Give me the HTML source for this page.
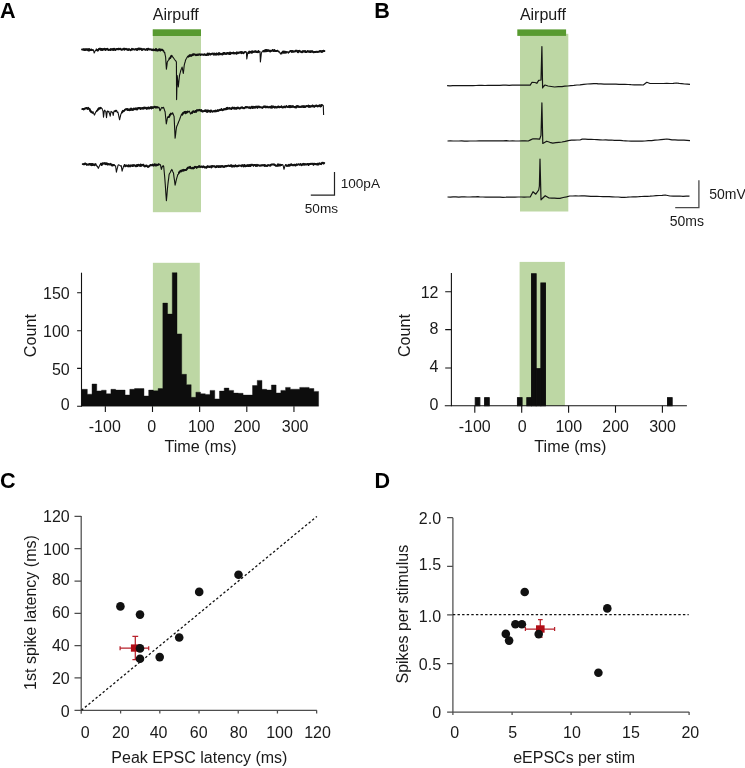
<!DOCTYPE html>
<html><head><meta charset="utf-8">
<style>
html,body{margin:0;padding:0;background:#fff;}
svg{display:block;will-change:transform;}
text{font-family:"Liberation Sans",sans-serif;fill:#1a1a1a;}
.b{font-weight:bold;font-size:21.6px;fill:#000;}
.t16{font-size:16.2px;}
.ap{font-size:16px;}
.t15{font-size:16px;}
.t13{font-size:14px;}
</style></head>
<body>
<svg width="745" height="768" viewBox="0 0 745 768">
<!-- panel letters -->
<text class="b" x="0" y="17.7">A</text>
<text class="b" x="374.2" y="17.7">B</text>
<text class="b" x="0" y="488">C</text>
<text class="b" x="374.5" y="488">D</text>

<!-- Panel A top -->
<rect x="152.9" y="30" width="48.1" height="182.2" fill="#bdd7a4"/>
<rect x="152.75" y="29.3" width="48.25" height="6.7" fill="#589a30"/>
<text class="ap" x="152.8" y="19.9">Airpuff</text>
<!-- Panel B top -->
<rect x="520" y="33.8" width="48.3" height="177.7" fill="#bdd7a4"/>
<rect x="517.3" y="29.4" width="48.8" height="6.5" fill="#589a30"/>
<text class="ap" x="519.9" y="19.7">Airpuff</text>

<path d="M82.0 49.5L82.5 49.6L83.0 49.4L83.5 49.7L84.0 49.1L84.5 50.1L85.0 50.1L85.5 49.9L86.0 49.1L86.5 49.7L87.0 49.4L87.5 49.3L88.0 50.4L88.5 50.5L89.0 49.0L89.5 50.4L90.0 49.8L90.5 50.0L91.0 49.6L91.5 49.5L91.9 50.1L92.4 49.7L92.9 50.1L93.4 49.8L93.8 51.4L94.2 53.0L94.7 52.1L95.1 51.1L95.6 50.2L96.1 50.4L96.6 49.4L97.1 50.3L97.6 50.6L98.0 50.5L98.5 49.8L99.0 48.8L99.5 48.6L100.0 49.3L100.5 48.7L101.0 50.0L101.5 49.0L102.0 49.1L102.5 50.0L103.0 49.1L103.5 49.5L104.0 49.3L104.5 48.7L105.0 49.6L105.5 50.0L106.0 48.9L106.5 49.1L107.0 49.4L107.5 48.8L108.0 49.5L108.5 50.1L109.0 49.8L109.5 49.6L110.0 49.6L110.5 50.1L111.0 49.0L111.5 49.6L112.0 49.3L112.5 49.7L113.0 48.9L113.5 49.9L114.0 48.8L114.5 48.9L115.0 49.9L115.5 50.1L116.0 49.3L116.5 49.2L117.0 48.9L117.5 48.9L118.0 49.5L118.5 48.7L119.0 48.6L119.5 49.1L120.0 49.2L120.5 48.7L121.0 49.5L121.5 49.8L122.0 49.7L122.5 49.3L123.0 49.1L123.5 49.2L124.0 48.6L124.5 49.7L125.0 49.1L125.5 49.1L126.0 48.8L126.5 49.4L127.0 49.6L127.5 49.3L128.0 50.1L128.5 49.8L129.0 49.1L129.5 49.6L130.0 49.6L130.5 50.2L131.0 49.6L131.5 49.7L132.0 48.8L132.5 49.5L133.0 49.4L133.5 49.3L134.0 49.4L134.5 49.6L135.0 49.5L135.5 49.4L136.0 48.9L136.5 49.3L137.0 50.1L137.5 49.2L138.0 48.6L138.5 48.5L139.0 49.4L139.5 48.6L140.0 49.3L140.5 48.6L141.0 48.7L141.5 49.2L142.0 50.1L142.5 49.3L143.0 49.2L143.5 49.2L144.0 49.3L144.5 49.2L145.0 49.6L145.5 49.9L146.0 49.6L146.5 49.1L147.0 49.5L147.5 49.9L148.0 48.7L148.5 48.8L149.0 49.4L149.5 49.5L150.0 49.2L150.5 49.5L151.0 49.4L151.5 49.9L152.0 49.4L152.5 49.9L153.0 50.2L153.5 49.4L154.0 50.2L154.5 50.0L155.0 49.7L155.5 50.3L156.0 49.0L156.5 50.4L156.9 50.2L157.4 50.5L157.9 50.6L158.4 49.5L158.9 50.1L159.4 49.3L159.9 50.1L160.3 50.6L160.8 49.5L161.3 49.7L161.8 50.0L162.3 49.7L162.8 50.3L163.2 50.7L163.7 50.9L164.2 52.7L164.7 52.3L165.1 54.6L165.6 57.0L166.0 63.1L166.4 69.2L166.9 65.6L167.3 62.0L167.9 61.0L168.5 59.9L169.0 59.8L169.5 58.4L170.0 58.2L170.5 57.4L171.0 56.4L171.5 55.7L172.1 56.1L172.6 57.0L173.2 57.3L173.6 58.0L174.1 58.8L174.5 59.5L175.1 60.2L175.7 60.7L176.4 62.0L176.6 99.6L177.2 75.5L177.8 81.2L178.3 87.0L178.9 81.2L179.5 75.5L179.9 73.8L180.4 72.2L180.8 70.5L181.2 69.4L181.7 68.2L182.1 67.1L182.7 70.2L183.3 73.4L183.8 69.4L184.2 65.4L184.6 63.7L185.1 62.0L185.5 60.3L186.0 59.3L186.6 58.3L187.1 57.3L187.6 56.6L188.1 56.5L188.6 56.6L189.0 56.3L189.5 55.3L190.0 55.7L190.5 55.2L191.0 55.8L191.5 55.7L192.0 55.3L192.5 54.4L193.1 54.9L193.6 54.3L194.1 54.2L194.6 54.5L195.1 54.8L195.6 54.8L196.1 55.2L196.6 55.0L197.1 54.4L197.6 55.0L198.1 54.7L198.6 54.7L199.1 54.3L199.6 54.5L200.1 54.4L200.5 55.0L201.0 54.5L201.5 54.5L202.0 54.5L202.5 54.5L203.0 54.8L203.5 54.8L204.0 54.9L204.5 54.3L205.0 54.4L205.5 54.8L206.0 55.1L206.5 55.1L207.0 54.7L207.5 53.6L208.0 54.8L208.5 54.8L209.0 53.5L209.5 53.9L210.0 53.9L210.5 54.6L211.0 54.3L211.5 53.8L212.0 53.6L212.5 53.6L213.0 53.4L213.5 54.5L214.0 54.7L214.5 53.6L215.0 54.0L215.5 54.4L216.0 54.7L216.5 53.4L217.0 54.0L217.5 53.8L218.0 54.6L218.5 54.5L219.0 53.1L219.5 53.3L220.0 54.4L220.5 53.9L221.0 53.8L221.5 54.2L222.0 54.1L222.5 54.4L223.0 53.4L223.5 52.9L224.0 53.9L224.5 52.9L225.0 53.6L225.5 53.7L226.0 54.1L226.5 53.3L227.0 53.6L227.5 52.9L228.0 52.9L228.5 53.6L229.0 53.9L229.5 54.1L230.0 52.5L230.5 53.9L231.0 53.3L231.5 53.0L232.0 53.0L232.5 53.3L233.0 52.9L233.5 52.5L234.0 53.6L234.5 53.4L235.0 53.0L235.5 53.1L236.0 53.3L236.5 53.7L237.0 52.3L237.5 53.3L238.0 53.3L238.5 52.5L239.0 52.8L239.5 52.6L240.0 52.2L240.5 52.5L240.9 52.0L241.4 53.2L241.9 52.0L242.4 52.7L242.9 52.6L243.4 53.2L243.9 52.8L244.4 52.1L244.9 52.1L245.4 51.5L245.9 51.5L246.4 52.2L246.8 59.0L247.3 55.8L247.8 52.5L248.3 52.1L248.8 53.1L249.3 51.6L249.9 51.8L250.4 52.5L250.9 52.0L251.4 51.6L251.9 52.8L252.4 51.3L252.9 52.2L253.5 51.8L254.0 51.7L254.5 51.4L255.0 51.8L255.5 51.2L256.0 51.6L256.5 52.1L257.0 51.6L257.5 52.1L258.0 52.2L258.5 51.1L259.0 52.2L259.5 51.7L260.0 51.5L260.4 62.0L260.9 57.5L261.4 53.0L261.9 52.1L262.5 51.2L263.0 51.0L263.5 51.0L264.0 51.5L264.5 50.5L265.0 50.6L265.5 50.0L266.0 51.4L266.5 50.0L267.0 50.0L267.5 51.0L268.0 50.4L268.5 50.3L269.0 50.9L269.5 51.3L270.0 50.5L270.5 51.4L271.0 50.9L271.5 50.9L272.0 50.8L272.5 50.0L273.0 50.2L273.5 51.1L274.0 51.1L274.5 50.1L275.0 50.8L275.5 51.1L276.0 50.9L276.5 51.1L277.0 50.9L277.5 50.7L278.0 50.9L278.5 52.0L279.0 51.3L279.5 52.2L280.0 53.1L280.5 54.0L281.0 53.0L281.5 53.5L282.0 52.4L282.5 52.4L283.0 51.6L283.5 52.7L284.0 51.4L284.5 52.7L285.0 52.1L285.5 51.8L285.9 52.7L286.4 52.3L286.9 51.7L287.3 52.1L287.8 51.8L288.3 53.3L289.0 51.6L289.5 52.3L290.0 51.4L290.5 50.9L291.0 50.9L291.5 51.1L292.0 52.0L292.5 51.0L293.0 51.1L293.5 51.7L294.0 51.6L294.5 51.4L295.0 51.6L295.5 50.8L296.0 50.7L296.5 50.8L297.0 50.8L297.5 52.0L298.0 52.3L298.5 51.0L299.0 51.4L299.5 50.8L300.0 51.6L300.5 51.5L301.0 51.9L301.5 51.8L302.0 52.3L302.5 51.8L303.0 51.0L303.5 51.5L304.0 51.7L304.5 51.5L305.0 51.0L305.5 52.0L306.0 51.8L306.5 52.1L307.0 51.6L307.5 51.1L308.0 51.5L308.5 51.3L309.0 51.8L309.5 51.3L310.0 51.9L310.5 51.2L311.0 51.9L311.5 51.3L312.0 51.2L312.5 51.2L313.0 52.1L313.5 52.3L314.0 52.2L314.5 51.9L315.0 51.9L315.5 52.1L316.0 51.6L316.5 51.7L317.0 52.0L317.5 51.8L318.0 51.6L318.5 51.7L319.0 51.8L319.5 51.5L320.0 51.0L320.5 51.1L321.0 51.7L321.4 51.2L321.9 51.9L322.4 51.1L322.9 51.5L323.4 50.6L323.9 50.8L324.4 51.1" fill="none" stroke="#111" stroke-width="1.1" stroke-linejoin="round"/>
<path d="M82.0 49.5L82.5 49.6L83.0 49.4L83.5 49.7L84.0 49.1L84.5 50.1L85.0 50.1L85.5 49.9L86.0 49.1L86.5 49.7L87.0 49.4L87.5 49.3L88.0 50.4L88.5 50.5L89.0 49.0L89.5 50.4L90.0 49.8L90.5 50.0L91.0 49.6L91.5 49.5L91.9 50.1M96.6 49.4L97.1 50.3L97.6 50.6L98.0 50.5L98.5 49.8L99.0 48.8L99.5 48.6L100.0 49.3L100.5 48.7L101.0 50.0L101.5 49.0L102.0 49.1L102.5 50.0L103.0 49.1L103.5 49.5L104.0 49.3L104.5 48.7L105.0 49.6L105.5 50.0L106.0 48.9L106.5 49.1L107.0 49.4L107.5 48.8L108.0 49.5L108.5 50.1L109.0 49.8L109.5 49.6L110.0 49.6L110.5 50.1L111.0 49.0L111.5 49.6L112.0 49.3L112.5 49.7L113.0 48.9L113.5 49.9L114.0 48.8L114.5 48.9L115.0 49.9L115.5 50.1L116.0 49.3L116.5 49.2L117.0 48.9L117.5 48.9L118.0 49.5L118.5 48.7L119.0 48.6L119.5 49.1L120.0 49.2L120.5 48.7L121.0 49.5L121.5 49.8L122.0 49.7L122.5 49.3L123.0 49.1L123.5 49.2L124.0 48.6L124.5 49.7L125.0 49.1L125.5 49.1L126.0 48.8L126.5 49.4L127.0 49.6L127.5 49.3L128.0 50.1L128.5 49.8L129.0 49.1L129.5 49.6L130.0 49.6L130.5 50.2L131.0 49.6L131.5 49.7L132.0 48.8L132.5 49.5L133.0 49.4L133.5 49.3L134.0 49.4L134.5 49.6L135.0 49.5L135.5 49.4L136.0 48.9L136.5 49.3L137.0 50.1L137.5 49.2L138.0 48.6L138.5 48.5L139.0 49.4L139.5 48.6L140.0 49.3L140.5 48.6L141.0 48.7L141.5 49.2L142.0 50.1L142.5 49.3L143.0 49.2L143.5 49.2L144.0 49.3L144.5 49.2L145.0 49.6L145.5 49.9L146.0 49.6L146.5 49.1L147.0 49.5L147.5 49.9L148.0 48.7L148.5 48.8L149.0 49.4L149.5 49.5L150.0 49.2L150.5 49.5L151.0 49.4L151.5 49.9L152.0 49.4L152.5 49.9L153.0 50.2L153.5 49.4L154.0 50.2L154.5 50.0L155.0 49.7L155.5 50.3L156.0 49.0L156.5 50.4L156.9 50.2L157.4 50.5L157.9 50.6L158.4 49.5L158.9 50.1L159.4 49.3L159.9 50.1L160.3 50.6L160.8 49.5L161.3 49.7L161.8 50.0L162.3 49.7L162.8 50.3L163.2 50.7M169.5 58.4L170.0 58.2L170.5 57.4L171.0 56.4L171.5 55.7M188.1 56.5L188.6 56.6L189.0 56.3L189.5 55.3L190.0 55.7L190.5 55.2L191.0 55.8L191.5 55.7L192.0 55.3L192.5 54.4L193.1 54.9L193.6 54.3L194.1 54.2L194.6 54.5L195.1 54.8L195.6 54.8L196.1 55.2L196.6 55.0L197.1 54.4L197.6 55.0L198.1 54.7L198.6 54.7L199.1 54.3L199.6 54.5L200.1 54.4L200.5 55.0L201.0 54.5L201.5 54.5L202.0 54.5L202.5 54.5L203.0 54.8L203.5 54.8L204.0 54.9L204.5 54.3L205.0 54.4L205.5 54.8L206.0 55.1L206.5 55.1L207.0 54.7L207.5 53.6L208.0 54.8L208.5 54.8L209.0 53.5L209.5 53.9L210.0 53.9L210.5 54.6L211.0 54.3L211.5 53.8L212.0 53.6L212.5 53.6L213.0 53.4L213.5 54.5L214.0 54.7L214.5 53.6L215.0 54.0L215.5 54.4L216.0 54.7L216.5 53.4L217.0 54.0L217.5 53.8L218.0 54.6L218.5 54.5L219.0 53.1L219.5 53.3L220.0 54.4L220.5 53.9L221.0 53.8L221.5 54.2L222.0 54.1L222.5 54.4L223.0 53.4L223.5 52.9L224.0 53.9L224.5 52.9L225.0 53.6L225.5 53.7L226.0 54.1L226.5 53.3L227.0 53.6L227.5 52.9L228.0 52.9L228.5 53.6L229.0 53.9L229.5 54.1L230.0 52.5L230.5 53.9L231.0 53.3L231.5 53.0L232.0 53.0L232.5 53.3L233.0 52.9L233.5 52.5L234.0 53.6L234.5 53.4L235.0 53.0L235.5 53.1L236.0 53.3L236.5 53.7L237.0 52.3L237.5 53.3L238.0 53.3L238.5 52.5L239.0 52.8L239.5 52.6L240.0 52.2L240.5 52.5L240.9 52.0L241.4 53.2L241.9 52.0L242.4 52.7L242.9 52.6L243.4 53.2L243.9 52.8L244.4 52.1L244.9 52.1M248.8 53.1L249.3 51.6L249.9 51.8L250.4 52.5L250.9 52.0L251.4 51.6L251.9 52.8L252.4 51.3L252.9 52.2L253.5 51.8L254.0 51.7L254.5 51.4L255.0 51.8L255.5 51.2L256.0 51.6L256.5 52.1L257.0 51.6L257.5 52.1L258.0 52.2L258.5 51.1M263.5 51.0L264.0 51.5L264.5 50.5L265.0 50.6L265.5 50.0L266.0 51.4L266.5 50.0L267.0 50.0L267.5 51.0L268.0 50.4L268.5 50.3L269.0 50.9L269.5 51.3L270.0 50.5L270.5 51.4L271.0 50.9L271.5 50.9L272.0 50.8L272.5 50.0L273.0 50.2L273.5 51.1L274.0 51.1L274.5 50.1L275.0 50.8L275.5 51.1L276.0 50.9L276.5 51.1L277.0 50.9L277.5 50.7M281.5 53.5L282.0 52.4L282.5 52.4L283.0 51.6L283.5 52.7L284.0 51.4L284.5 52.7L285.0 52.1L285.5 51.8L285.9 52.7L286.4 52.3M290.0 51.4L290.5 50.9L291.0 50.9L291.5 51.1L292.0 52.0L292.5 51.0L293.0 51.1L293.5 51.7L294.0 51.6L294.5 51.4L295.0 51.6L295.5 50.8L296.0 50.7L296.5 50.8L297.0 50.8L297.5 52.0L298.0 52.3L298.5 51.0L299.0 51.4L299.5 50.8L300.0 51.6L300.5 51.5L301.0 51.9L301.5 51.8L302.0 52.3L302.5 51.8L303.0 51.0L303.5 51.5L304.0 51.7L304.5 51.5L305.0 51.0L305.5 52.0L306.0 51.8L306.5 52.1L307.0 51.6L307.5 51.1L308.0 51.5L308.5 51.3L309.0 51.8L309.5 51.3L310.0 51.9L310.5 51.2L311.0 51.9L311.5 51.3L312.0 51.2L312.5 51.2L313.0 52.1L313.5 52.3L314.0 52.2L314.5 51.9L315.0 51.9L315.5 52.1L316.0 51.6L316.5 51.7L317.0 52.0L317.5 51.8L318.0 51.6L318.5 51.7L319.0 51.8L319.5 51.5L320.0 51.0L320.5 51.1L321.0 51.7L321.4 51.2L321.9 51.9L322.4 51.1L322.9 51.5L323.4 50.6L323.9 50.8L324.4 51.1" fill="none" stroke="#111" stroke-width="1.9" stroke-linejoin="round" stroke-linecap="round"/>
<path d="M82.3 109.1L82.8 108.9L83.3 109.0L83.8 109.4L84.4 108.6L84.9 108.5L85.4 108.4L85.9 108.5L86.3 107.9L86.8 108.4L87.3 108.6L87.8 108.9L88.2 107.8L88.7 108.4L89.2 108.8L89.7 109.1L90.2 110.9L90.7 111.1L91.2 112.1L91.6 111.7L92.1 113.1L92.6 113.2L93.1 111.8L93.5 112.9L94.0 114.0L94.4 115.1L95.0 113.9L95.5 112.6L96.1 111.4L96.6 111.6L97.1 110.6L97.6 110.1L98.1 109.4L98.6 108.6L99.1 108.1L99.6 108.7L100.1 108.4L100.6 107.8L101.1 108.1L101.6 108.2L102.1 108.7L102.5 109.9L103.0 111.1L103.5 117.1L103.9 113.9L104.3 110.8L104.8 110.2L105.3 111.1L105.8 111.4L106.5 117.8L106.9 114.4L107.3 111.1L107.8 111.1L108.4 111.8L108.9 111.4L109.3 113.0L109.8 114.5L110.2 116.1L110.6 113.8L111.0 111.4L111.5 111.8L112.1 112.3L112.6 112.4L113.2 115.4L113.6 113.2L114.0 111.1L114.5 111.0L115.1 111.2L115.7 110.8L116.2 110.8L116.8 110.9L117.3 112.5L117.9 112.1L118.5 114.7L119.0 117.2L119.6 119.8L120.0 117.9L120.5 116.0L120.9 114.1L121.4 113.3L122.0 112.4L122.5 111.6L123.0 110.8L123.5 111.3L124.0 110.8L124.5 110.3L125.0 109.7L125.5 109.4L126.0 109.2L126.5 109.3L127.0 108.9L127.5 110.0L128.0 109.4L128.5 110.0L129.0 109.3L129.5 110.2L130.0 109.4L130.5 109.9L131.0 108.5L131.5 108.8L132.0 109.9L132.5 109.2L133.0 109.9L133.5 109.0L134.0 108.4L134.5 109.2L135.0 109.4L135.5 108.6L136.0 108.3L136.5 108.6L137.0 109.6L137.5 109.2L138.0 108.1L138.5 108.3L139.0 108.0L139.5 107.9L140.0 108.6L140.5 109.0L141.0 108.0L141.5 108.6L142.0 108.4L142.5 107.9L143.0 108.7L143.5 107.7L144.0 108.5L144.5 107.6L145.0 108.1L145.5 107.7L146.0 107.8L146.5 108.8L147.0 108.5L147.5 107.7L148.0 108.6L148.5 107.5L149.0 107.7L149.5 108.4L150.0 107.8L150.5 108.0L151.0 107.1L151.5 108.5L152.0 107.2L152.5 107.2L153.0 108.0L153.5 107.3L154.0 107.2L154.5 106.8L155.0 106.8L155.5 107.6L156.0 107.0L156.5 107.5L157.0 107.1L157.5 107.2L158.0 108.0L158.5 107.2L159.0 107.2L159.5 109.0L160.0 110.8L160.6 109.7L161.1 108.5L161.7 107.4L162.2 107.6L162.7 108.2L163.2 107.2L163.7 107.8L164.2 109.1L164.6 110.5L165.1 111.8L165.7 117.8L166.3 123.9L166.9 120.8L167.4 117.8L167.9 116.9L168.4 117.1L168.9 117.1L169.4 116.3L169.9 114.7L170.4 114.5L170.9 113.6L171.5 114.0L172.1 113.9L172.6 112.8L173.1 114.0L173.6 115.3L174.1 116.5L174.6 127.4L175.1 138.3L175.6 134.6L176.0 130.9L176.5 127.2L176.9 126.1L177.4 125.0L177.8 123.9L178.3 122.8L178.7 121.6L179.2 120.5L179.7 119.2L180.2 117.8L180.7 116.4L181.2 115.1L181.7 114.0L182.2 114.7L182.7 114.0L183.2 112.8L183.7 112.9L184.1 112.6L184.6 112.0L185.1 111.8L185.6 113.3L186.0 112.0L186.5 112.4L187.0 112.5L187.6 111.5L188.1 112.1L188.7 111.5L189.2 111.1L189.7 112.1L190.1 113.1L190.6 114.1L191.1 113.3L191.6 112.6L192.1 113.0L192.6 112.1L193.1 111.3L193.6 111.4L194.1 111.8L194.6 112.1L195.1 111.6L195.6 110.9L196.1 111.8L196.6 110.5L197.1 110.1L197.6 110.3L198.1 110.5L198.6 110.4L199.1 109.8L199.6 110.0L200.1 110.4L200.6 110.7L201.1 110.1L201.6 110.5L202.0 111.4L202.5 111.6L203.0 111.1L203.5 111.2L204.0 111.1L204.5 110.5L205.0 111.1L205.5 110.4L206.0 110.3L206.5 111.7L207.0 111.4L207.5 111.8L208.0 110.3L208.5 111.3L209.0 111.0L209.5 111.4L210.0 110.8L210.5 111.8L211.0 110.4L211.5 111.1L212.0 111.4L212.5 111.7L213.0 111.4L213.5 111.3L214.0 111.0L214.5 111.4L215.0 111.5L215.5 110.5L216.0 110.9L216.5 111.2L217.0 111.1L217.5 110.2L218.0 110.8L218.5 110.8L219.0 110.2L219.5 110.2L220.0 109.7L220.5 110.0L221.0 109.9L221.5 109.0L222.0 109.8L222.5 110.3L223.0 110.0L223.5 109.7L224.0 109.0L224.5 109.5L225.0 109.2L225.5 108.9L226.0 109.4L226.5 108.1L227.0 109.1L227.5 107.8L228.0 108.5L228.5 108.6L229.0 108.4L229.5 108.0L230.0 108.7L230.5 108.4L231.0 108.5L231.5 109.0L232.0 107.9L232.5 107.5L233.0 107.9L233.5 108.5L234.0 107.7L234.5 107.6L235.0 108.8L235.5 108.4L236.0 108.0L236.5 108.7L237.0 107.7L237.5 108.3L238.0 107.5L238.5 107.8L239.0 108.4L239.5 108.6L240.0 108.5L240.5 107.7L241.0 107.9L241.5 107.5L242.0 107.2L242.5 107.7L243.0 108.2L243.5 108.2L244.0 108.0L244.5 108.3L245.0 107.6L245.5 107.2L246.0 107.0L246.5 107.5L247.0 107.2L247.5 107.1L248.0 107.4L248.5 107.7L249.0 107.5L249.5 107.2L250.0 108.0L250.5 108.2L251.0 107.4L251.5 106.7L252.0 106.7L252.5 108.0L253.0 106.7L253.5 107.7L254.0 107.5L254.5 107.0L255.0 107.8L255.5 106.6L256.0 106.7L256.5 107.2L257.0 106.5L257.5 107.8L258.0 106.8L258.5 106.7L259.0 106.5L259.5 107.4L260.0 107.2L260.5 107.1L261.0 107.4L261.5 107.4L262.0 107.7L262.5 107.9L263.0 107.4L263.5 106.6L264.0 107.1L264.5 106.6L265.0 106.3L265.5 107.0L266.0 107.4L266.5 106.6L267.0 106.7L267.5 106.8L268.0 107.4L268.5 107.1L269.0 107.2L269.5 107.4L270.0 106.8L270.5 107.5L271.0 107.6L271.5 106.3L272.0 107.7L272.5 107.3L273.0 106.3L273.5 106.9L274.0 107.1L274.5 107.6L275.0 106.7L275.5 107.0L276.0 107.5L276.5 107.3L277.0 107.6L277.5 106.8L278.0 107.1L278.5 106.4L279.0 107.2L279.5 107.3L280.0 106.8L280.5 107.0L281.0 107.1L281.5 106.3L282.0 107.4L282.5 107.5L283.0 107.5L283.5 106.8L284.0 107.2L284.5 106.5L285.0 107.4L285.5 107.3L286.0 106.5L286.5 106.1L287.0 106.6L287.5 106.8L288.0 107.1L288.5 106.7L289.0 106.0L289.5 107.2L290.0 106.0L290.5 107.2L291.0 106.2L291.5 106.4L292.0 107.1L292.5 106.1L293.0 106.1L293.5 106.7L294.0 107.0L294.5 107.2L295.0 107.0L295.5 107.4L296.0 106.6L296.5 107.4L297.0 106.0L297.5 106.2L298.0 106.7L298.5 106.3L299.0 107.0L299.5 106.8L300.0 106.6L300.5 106.6L301.0 107.1L301.5 106.6L302.0 106.2L302.5 106.3L303.0 107.0L303.5 107.1L304.0 106.0L304.5 107.0L305.0 107.1L305.5 106.4L306.0 106.5L306.5 105.9L307.0 106.4L307.5 106.3L308.0 106.4L308.5 105.5L309.0 107.0L309.5 106.2L310.0 106.0L310.5 106.7L311.0 106.3L311.5 106.1L312.0 106.4L312.5 105.4L313.0 106.1L313.5 105.9L314.0 106.8L314.5 106.7L315.0 106.0L315.5 105.6L316.0 105.9L316.5 105.4L317.0 105.8L317.4 106.4L317.9 106.5L318.4 105.8L318.9 105.6L319.4 105.3L319.9 106.0L320.4 106.5L320.9 105.2L321.3 106.2L321.8 105.0L322.3 105.2L322.8 105.3L323.3 105.7L323.6 115.0" fill="none" stroke="#111" stroke-width="1.1" stroke-linejoin="round"/>
<path d="M82.3 109.1L82.8 108.9L83.3 109.0L83.8 109.4L84.4 108.6L84.9 108.5L85.4 108.4L85.9 108.5L86.3 107.9L86.8 108.4L87.3 108.6L87.8 108.9L88.2 107.8L88.7 108.4L89.2 108.8L89.7 109.1L90.2 110.9L90.7 111.1L91.2 112.1L91.6 111.7M97.1 110.6L97.6 110.1L98.1 109.4L98.6 108.6L99.1 108.1L99.6 108.7L100.1 108.4L100.6 107.8M115.1 111.2L115.7 110.8L116.2 110.8M122.0 112.4L122.5 111.6L123.0 110.8L123.5 111.3L124.0 110.8L124.5 110.3L125.0 109.7L125.5 109.4L126.0 109.2L126.5 109.3L127.0 108.9L127.5 110.0L128.0 109.4L128.5 110.0L129.0 109.3L129.5 110.2L130.0 109.4L130.5 109.9L131.0 108.5L131.5 108.8L132.0 109.9L132.5 109.2L133.0 109.9L133.5 109.0L134.0 108.4L134.5 109.2L135.0 109.4L135.5 108.6L136.0 108.3L136.5 108.6L137.0 109.6L137.5 109.2L138.0 108.1L138.5 108.3L139.0 108.0L139.5 107.9L140.0 108.6L140.5 109.0L141.0 108.0L141.5 108.6L142.0 108.4L142.5 107.9L143.0 108.7L143.5 107.7L144.0 108.5L144.5 107.6L145.0 108.1L145.5 107.7L146.0 107.8L146.5 108.8L147.0 108.5L147.5 107.7L148.0 108.6L148.5 107.5L149.0 107.7L149.5 108.4L150.0 107.8L150.5 108.0L151.0 107.1L151.5 108.5L152.0 107.2L152.5 107.2L153.0 108.0L153.5 107.3L154.0 107.2L154.5 106.8L155.0 106.8L155.5 107.6L156.0 107.0L156.5 107.5L157.0 107.1L157.5 107.2M168.4 117.1L168.9 117.1L169.4 116.3L169.9 114.7L170.4 114.5L170.9 113.6M182.2 114.7L182.7 114.0L183.2 112.8L183.7 112.9L184.1 112.6L184.6 112.0L185.1 111.8L185.6 113.3L186.0 112.0L186.5 112.4L187.0 112.5L187.6 111.5M191.6 112.6L192.1 113.0L192.6 112.1L193.1 111.3L193.6 111.4L194.1 111.8L194.6 112.1L195.1 111.6L195.6 110.9L196.1 111.8L196.6 110.5L197.1 110.1L197.6 110.3L198.1 110.5L198.6 110.4L199.1 109.8L199.6 110.0L200.1 110.4L200.6 110.7L201.1 110.1L201.6 110.5L202.0 111.4L202.5 111.6L203.0 111.1L203.5 111.2L204.0 111.1L204.5 110.5L205.0 111.1L205.5 110.4L206.0 110.3L206.5 111.7L207.0 111.4L207.5 111.8L208.0 110.3L208.5 111.3L209.0 111.0L209.5 111.4L210.0 110.8L210.5 111.8L211.0 110.4L211.5 111.1L212.0 111.4L212.5 111.7L213.0 111.4L213.5 111.3L214.0 111.0L214.5 111.4L215.0 111.5L215.5 110.5L216.0 110.9L216.5 111.2L217.0 111.1L217.5 110.2L218.0 110.8L218.5 110.8L219.0 110.2L219.5 110.2L220.0 109.7L220.5 110.0L221.0 109.9L221.5 109.0L222.0 109.8L222.5 110.3L223.0 110.0L223.5 109.7L224.0 109.0L224.5 109.5L225.0 109.2L225.5 108.9L226.0 109.4L226.5 108.1L227.0 109.1L227.5 107.8L228.0 108.5L228.5 108.6L229.0 108.4L229.5 108.0L230.0 108.7L230.5 108.4L231.0 108.5L231.5 109.0L232.0 107.9L232.5 107.5L233.0 107.9L233.5 108.5L234.0 107.7L234.5 107.6L235.0 108.8L235.5 108.4L236.0 108.0L236.5 108.7L237.0 107.7L237.5 108.3L238.0 107.5L238.5 107.8L239.0 108.4L239.5 108.6L240.0 108.5L240.5 107.7L241.0 107.9L241.5 107.5L242.0 107.2L242.5 107.7L243.0 108.2L243.5 108.2L244.0 108.0L244.5 108.3L245.0 107.6L245.5 107.2L246.0 107.0L246.5 107.5L247.0 107.2L247.5 107.1L248.0 107.4L248.5 107.7L249.0 107.5L249.5 107.2L250.0 108.0L250.5 108.2L251.0 107.4L251.5 106.7L252.0 106.7L252.5 108.0L253.0 106.7L253.5 107.7L254.0 107.5L254.5 107.0L255.0 107.8L255.5 106.6L256.0 106.7L256.5 107.2L257.0 106.5L257.5 107.8L258.0 106.8L258.5 106.7L259.0 106.5L259.5 107.4L260.0 107.2L260.5 107.1L261.0 107.4L261.5 107.4L262.0 107.7L262.5 107.9L263.0 107.4L263.5 106.6L264.0 107.1L264.5 106.6L265.0 106.3L265.5 107.0L266.0 107.4L266.5 106.6L267.0 106.7L267.5 106.8L268.0 107.4L268.5 107.1L269.0 107.2L269.5 107.4L270.0 106.8L270.5 107.5L271.0 107.6L271.5 106.3L272.0 107.7L272.5 107.3L273.0 106.3L273.5 106.9L274.0 107.1L274.5 107.6L275.0 106.7L275.5 107.0L276.0 107.5L276.5 107.3L277.0 107.6L277.5 106.8L278.0 107.1L278.5 106.4L279.0 107.2L279.5 107.3L280.0 106.8L280.5 107.0L281.0 107.1L281.5 106.3L282.0 107.4L282.5 107.5L283.0 107.5L283.5 106.8L284.0 107.2L284.5 106.5L285.0 107.4L285.5 107.3L286.0 106.5L286.5 106.1L287.0 106.6L287.5 106.8L288.0 107.1L288.5 106.7L289.0 106.0L289.5 107.2L290.0 106.0L290.5 107.2L291.0 106.2L291.5 106.4L292.0 107.1L292.5 106.1L293.0 106.1L293.5 106.7L294.0 107.0L294.5 107.2L295.0 107.0L295.5 107.4L296.0 106.6L296.5 107.4L297.0 106.0L297.5 106.2L298.0 106.7L298.5 106.3L299.0 107.0L299.5 106.8L300.0 106.6L300.5 106.6L301.0 107.1L301.5 106.6L302.0 106.2L302.5 106.3L303.0 107.0L303.5 107.1L304.0 106.0L304.5 107.0L305.0 107.1L305.5 106.4L306.0 106.5L306.5 105.9L307.0 106.4L307.5 106.3L308.0 106.4L308.5 105.5L309.0 107.0L309.5 106.2L310.0 106.0L310.5 106.7L311.0 106.3L311.5 106.1L312.0 106.4L312.5 105.4L313.0 106.1L313.5 105.9L314.0 106.8L314.5 106.7L315.0 106.0L315.5 105.6L316.0 105.9L316.5 105.4L317.0 105.8L317.4 106.4L317.9 106.5L318.4 105.8L318.9 105.6L319.4 105.3L319.9 106.0L320.4 106.5L320.9 105.2L321.3 106.2L321.8 105.0" fill="none" stroke="#111" stroke-width="1.9" stroke-linejoin="round" stroke-linecap="round"/>
<path d="M82.7 164.1L83.2 164.1L83.7 164.4L84.2 164.4L84.7 163.6L85.2 163.4L85.7 164.0L86.2 163.9L86.7 164.8L87.2 164.6L87.7 164.5L88.2 164.5L88.7 164.7L89.2 163.9L89.7 164.4L90.2 163.9L90.7 164.5L91.2 165.2L91.7 163.9L92.2 165.1L92.7 164.0L93.2 165.0L93.6 164.5L94.1 164.6L94.6 165.3L95.1 164.1L95.6 164.2L96.1 164.9L96.7 166.1L97.3 166.0L97.8 167.2L98.3 168.4L98.8 167.2L99.4 165.9L99.9 164.7L100.4 164.6L101.0 163.7L101.5 165.0L102.0 164.8L102.5 163.3L103.1 163.6L103.6 163.6L104.1 163.1L104.6 163.4L105.1 164.0L105.6 163.3L106.1 164.2L106.6 163.3L107.1 163.5L107.6 164.6L108.2 164.0L108.7 164.1L109.2 164.5L109.7 164.3L110.2 164.3L110.7 163.8L111.2 164.9L111.7 165.4L112.2 164.7L112.7 165.6L113.1 165.2L113.6 164.9L114.1 165.1L114.6 165.7L115.0 165.8L115.5 165.7L116.0 168.9L116.4 172.2L116.9 169.9L117.5 167.7L118.0 165.4L118.5 164.8L119.1 165.1L119.6 165.3L120.1 165.6L120.7 166.1L121.2 165.7L121.7 168.4L122.1 171.1L122.6 169.3L123.2 167.5L123.7 165.7L124.2 165.7L124.7 165.0L125.2 166.3L125.6 165.7L126.1 165.9L126.6 165.4L127.1 165.8L127.6 165.7L128.1 166.4L128.6 165.3L129.0 166.1L129.5 165.5L130.0 166.4L130.5 166.1L131.0 165.3L131.5 165.6L132.0 165.7L132.5 166.1L133.0 165.1L133.5 165.7L134.0 165.3L134.5 165.3L135.1 165.6L135.6 166.3L136.1 165.5L136.6 166.2L137.1 164.9L137.6 166.0L138.1 165.1L138.6 164.8L139.1 165.2L139.6 165.6L140.1 165.9L140.6 164.5L141.1 165.0L141.6 165.8L142.1 165.2L142.5 165.1L143.0 164.7L143.5 164.8L144.0 165.8L144.5 166.4L145.0 166.5L145.5 165.7L146.1 166.0L146.6 165.5L147.1 166.2L147.7 166.8L148.2 166.9L148.8 166.6L149.3 165.7L149.8 165.8L150.4 165.0L150.9 165.4L151.4 165.2L151.9 165.3L152.5 164.6L153.0 164.9L153.5 165.6L154.0 165.5L154.5 164.3L155.0 164.5L155.5 165.4L156.0 164.5L156.5 165.5L156.9 164.8L157.4 165.1L157.9 165.1L158.4 164.3L158.9 164.4L159.4 164.3L159.9 165.0L160.4 164.7L160.9 167.1L161.4 169.4L161.9 167.8L162.4 166.1L162.8 166.5L163.3 165.7L163.7 166.4L164.2 171.8L164.7 177.1L165.3 184.9L165.8 192.8L166.4 200.6L166.9 195.5L167.3 190.3L167.8 185.2L168.2 181.6L168.7 178.1L169.1 174.5L169.6 173.5L170.2 172.5L170.7 171.4L171.3 170.4L171.8 169.4L172.4 170.6L172.9 171.9L173.5 173.1L174.0 177.1L174.6 181.2L175.1 185.2L175.6 183.2L176.0 181.2L176.5 179.2L176.9 177.6L177.4 176.1L177.8 174.5L178.3 174.4L178.9 172.9L179.4 171.9L180.0 171.4L180.5 170.8L181.0 171.4L181.6 170.5L182.1 170.4L182.7 170.7L183.2 169.8L183.7 170.6L184.2 170.4L184.7 169.9L185.2 170.1L185.7 169.9L186.2 170.0L186.7 169.4L187.1 168.7L187.6 167.9L188.1 167.6L188.6 167.4L189.1 167.8L189.6 167.6L190.1 166.8L190.6 167.9L191.1 168.3L191.6 168.2L192.1 168.4L192.6 167.8L193.1 168.4L193.6 167.7L194.1 168.0L194.6 167.2L195.1 166.7L195.6 167.0L196.1 166.9L196.6 167.8L197.1 167.3L197.6 166.9L198.1 167.0L198.6 166.7L199.1 166.1L199.6 166.8L200.1 167.1L200.6 166.7L201.1 166.4L201.6 166.7L202.0 166.6L202.5 167.2L203.0 166.4L203.5 166.4L204.0 166.7L204.5 167.4L205.0 167.1L205.5 167.5L206.0 167.3L206.5 167.7L207.0 166.8L207.5 166.2L208.0 166.9L208.5 166.8L209.0 166.4L209.5 167.1L210.0 166.6L210.5 166.4L211.0 166.5L211.5 167.5L212.0 166.0L212.5 166.5L213.0 166.3L213.5 166.2L214.0 166.5L214.5 166.2L215.0 166.6L215.5 167.3L216.0 166.6L216.5 166.9L217.0 166.0L217.5 166.4L218.0 166.7L218.5 167.0L219.0 166.0L219.5 166.4L220.0 167.0L220.5 166.9L221.0 165.9L221.5 166.4L222.0 166.7L222.5 166.1L223.0 166.6L223.5 166.5L224.0 167.0L224.5 166.3L225.0 166.5L225.5 165.9L226.0 166.5L226.5 165.9L227.0 166.1L227.5 165.9L228.0 165.8L228.5 165.5L229.0 165.6L229.5 166.1L230.0 166.0L230.5 165.6L231.0 165.2L231.5 166.4L232.0 165.6L232.5 166.6L233.0 166.1L233.5 165.7L234.0 166.5L234.5 166.5L235.0 165.6L235.5 165.3L236.0 166.1L236.5 166.4L237.0 166.0L237.5 166.3L238.0 165.7L238.5 166.0L239.0 165.4L239.5 165.6L240.0 165.6L240.5 165.6L241.0 165.6L241.5 166.2L242.0 165.2L242.5 165.2L243.0 165.3L243.5 166.4L244.0 165.7L244.5 164.9L245.0 166.2L245.5 166.2L246.0 166.1L246.5 165.4L247.0 166.0L247.5 165.3L248.0 165.0L248.5 166.1L249.0 166.1L249.5 165.1L250.0 165.5L250.5 166.1L251.0 164.7L251.5 165.2L252.0 164.7L252.5 164.9L253.0 164.9L253.5 165.8L254.0 165.1L254.5 164.9L255.0 164.9L255.5 165.1L256.0 166.0L256.5 165.6L257.0 164.8L257.5 165.7L258.0 165.4L258.5 165.3L259.0 165.4L259.5 165.6L260.0 165.8L260.5 165.4L261.0 165.6L261.5 165.3L262.0 165.5L262.5 165.1L263.0 165.2L263.5 165.3L264.0 165.6L264.5 164.9L265.0 166.0L265.5 165.3L266.0 165.8L266.5 165.6L267.0 166.0L267.5 165.5L268.0 165.1L268.5 165.1L269.0 165.4L269.5 165.6L270.0 165.2L270.5 165.7L271.0 164.6L271.5 164.5L272.0 164.5L272.5 164.5L273.0 164.4L273.5 164.4L274.0 164.7L274.5 164.5L275.0 165.4L275.5 165.3L276.0 165.9L276.5 165.8L277.0 165.5L277.5 165.8L278.0 164.3L278.5 164.6L279.0 165.7L279.5 165.0L280.0 164.6L280.5 165.4L281.0 164.9L281.5 165.1L282.0 164.7L282.5 164.6L283.0 165.0L283.5 167.2L284.0 169.3L284.6 167.2L285.2 165.2L285.7 164.5L286.2 165.3L286.7 165.9L287.2 165.9L287.7 165.5L288.2 165.8L288.7 164.8L289.1 164.7L289.6 165.7L290.1 165.2L290.6 165.3L291.1 164.2L291.6 164.5L292.1 164.9L292.6 165.3L293.1 165.4L293.6 165.3L294.1 164.6L294.6 164.6L295.1 165.4L295.6 165.6L296.1 164.7L296.5 164.3L297.0 164.9L297.5 164.8L298.0 164.5L298.5 164.2L299.0 164.5L299.5 164.8L300.0 164.6L300.5 164.0L301.0 164.6L301.5 165.3L302.0 164.9L302.5 164.1L303.0 164.3L303.5 163.8L304.0 164.8L304.5 164.6L305.0 163.9L305.5 164.5L306.0 164.5L306.5 164.5L307.0 164.1L307.5 164.0L308.0 164.0L308.5 165.1L309.0 164.0L309.5 164.2L310.0 164.1L310.5 163.7L311.0 164.0L311.5 163.7L312.0 163.8L312.5 163.9L313.0 163.8L313.5 164.8L314.0 163.7L314.5 163.8L315.0 164.0L315.5 164.3L316.0 164.0L316.5 164.3L317.0 164.6L317.5 163.7L318.0 164.5L318.5 164.5L319.0 163.4L319.5 163.4L320.0 163.5L320.5 163.9L321.1 164.2L321.6 163.6L322.1 162.7L322.6 163.1L323.1 162.8L323.7 163.6L324.2 163.0" fill="none" stroke="#111" stroke-width="1.1" stroke-linejoin="round"/>
<path d="M82.7 164.1L83.2 164.1L83.7 164.4L84.2 164.4L84.7 163.6L85.2 163.4L85.7 164.0L86.2 163.9L86.7 164.8L87.2 164.6L87.7 164.5L88.2 164.5L88.7 164.7L89.2 163.9L89.7 164.4L90.2 163.9L90.7 164.5L91.2 165.2L91.7 163.9L92.2 165.1L92.7 164.0L93.2 165.0L93.6 164.5L94.1 164.6L94.6 165.3L95.1 164.1L95.6 164.2M101.0 163.7L101.5 165.0L102.0 164.8L102.5 163.3L103.1 163.6L103.6 163.6L104.1 163.1L104.6 163.4L105.1 164.0L105.6 163.3L106.1 164.2L106.6 163.3L107.1 163.5L107.6 164.6L108.2 164.0L108.7 164.1L109.2 164.5L109.7 164.3L110.2 164.3L110.7 163.8L111.2 164.9L111.7 165.4L112.2 164.7L112.7 165.6L113.1 165.2L113.6 164.9L114.1 165.1M124.7 165.0L125.2 166.3L125.6 165.7L126.1 165.9L126.6 165.4L127.1 165.8L127.6 165.7L128.1 166.4L128.6 165.3L129.0 166.1L129.5 165.5L130.0 166.4L130.5 166.1L131.0 165.3L131.5 165.6L132.0 165.7L132.5 166.1L133.0 165.1L133.5 165.7L134.0 165.3L134.5 165.3L135.1 165.6L135.6 166.3L136.1 165.5L136.6 166.2L137.1 164.9L137.6 166.0L138.1 165.1L138.6 164.8L139.1 165.2L139.6 165.6L140.1 165.9L140.6 164.5L141.1 165.0L141.6 165.8L142.1 165.2L142.5 165.1L143.0 164.7L143.5 164.8L144.0 165.8L144.5 166.4L145.0 166.5L145.5 165.7L146.1 166.0L146.6 165.5L147.1 166.2L147.7 166.8L148.2 166.9L148.8 166.6L149.3 165.7L149.8 165.8L150.4 165.0L150.9 165.4L151.4 165.2L151.9 165.3L152.5 164.6L153.0 164.9L153.5 165.6L154.0 165.5L154.5 164.3L155.0 164.5L155.5 165.4L156.0 164.5L156.5 165.5L156.9 164.8L157.4 165.1L157.9 165.1L158.4 164.3L158.9 164.4M178.9 172.9L179.4 171.9L180.0 171.4L180.5 170.8L181.0 171.4L181.6 170.5L182.1 170.4L182.7 170.7L183.2 169.8L183.7 170.6L184.2 170.4L184.7 169.9L185.2 170.1L185.7 169.9L186.2 170.0L186.7 169.4L187.1 168.7L187.6 167.9L188.1 167.6L188.6 167.4L189.1 167.8L189.6 167.6L190.1 166.8L190.6 167.9L191.1 168.3L191.6 168.2L192.1 168.4L192.6 167.8L193.1 168.4L193.6 167.7L194.1 168.0L194.6 167.2L195.1 166.7L195.6 167.0L196.1 166.9L196.6 167.8L197.1 167.3L197.6 166.9L198.1 167.0L198.6 166.7L199.1 166.1L199.6 166.8L200.1 167.1L200.6 166.7L201.1 166.4L201.6 166.7L202.0 166.6L202.5 167.2L203.0 166.4L203.5 166.4L204.0 166.7L204.5 167.4L205.0 167.1L205.5 167.5L206.0 167.3L206.5 167.7L207.0 166.8L207.5 166.2L208.0 166.9L208.5 166.8L209.0 166.4L209.5 167.1L210.0 166.6L210.5 166.4L211.0 166.5L211.5 167.5L212.0 166.0L212.5 166.5L213.0 166.3L213.5 166.2L214.0 166.5L214.5 166.2L215.0 166.6L215.5 167.3L216.0 166.6L216.5 166.9L217.0 166.0L217.5 166.4L218.0 166.7L218.5 167.0L219.0 166.0L219.5 166.4L220.0 167.0L220.5 166.9L221.0 165.9L221.5 166.4L222.0 166.7L222.5 166.1L223.0 166.6L223.5 166.5L224.0 167.0L224.5 166.3L225.0 166.5L225.5 165.9L226.0 166.5L226.5 165.9L227.0 166.1L227.5 165.9L228.0 165.8L228.5 165.5L229.0 165.6L229.5 166.1L230.0 166.0L230.5 165.6L231.0 165.2L231.5 166.4L232.0 165.6L232.5 166.6L233.0 166.1L233.5 165.7L234.0 166.5L234.5 166.5L235.0 165.6L235.5 165.3L236.0 166.1L236.5 166.4L237.0 166.0L237.5 166.3L238.0 165.7L238.5 166.0L239.0 165.4L239.5 165.6L240.0 165.6L240.5 165.6L241.0 165.6L241.5 166.2L242.0 165.2L242.5 165.2L243.0 165.3L243.5 166.4L244.0 165.7L244.5 164.9L245.0 166.2L245.5 166.2L246.0 166.1L246.5 165.4L247.0 166.0L247.5 165.3L248.0 165.0L248.5 166.1L249.0 166.1L249.5 165.1L250.0 165.5L250.5 166.1L251.0 164.7L251.5 165.2L252.0 164.7L252.5 164.9L253.0 164.9L253.5 165.8L254.0 165.1L254.5 164.9L255.0 164.9L255.5 165.1L256.0 166.0L256.5 165.6L257.0 164.8L257.5 165.7L258.0 165.4L258.5 165.3L259.0 165.4L259.5 165.6L260.0 165.8L260.5 165.4L261.0 165.6L261.5 165.3L262.0 165.5L262.5 165.1L263.0 165.2L263.5 165.3L264.0 165.6L264.5 164.9L265.0 166.0L265.5 165.3L266.0 165.8L266.5 165.6L267.0 166.0L267.5 165.5L268.0 165.1L268.5 165.1L269.0 165.4L269.5 165.6L270.0 165.2L270.5 165.7L271.0 164.6L271.5 164.5L272.0 164.5L272.5 164.5L273.0 164.4L273.5 164.4L274.0 164.7L274.5 164.5L275.0 165.4L275.5 165.3L276.0 165.9L276.5 165.8L277.0 165.5L277.5 165.8L278.0 164.3L278.5 164.6L279.0 165.7L279.5 165.0L280.0 164.6L280.5 165.4L281.0 164.9L281.5 165.1M286.2 165.3L286.7 165.9L287.2 165.9L287.7 165.5L288.2 165.8L288.7 164.8L289.1 164.7L289.6 165.7L290.1 165.2L290.6 165.3L291.1 164.2L291.6 164.5L292.1 164.9L292.6 165.3L293.1 165.4L293.6 165.3L294.1 164.6L294.6 164.6L295.1 165.4L295.6 165.6L296.1 164.7L296.5 164.3L297.0 164.9L297.5 164.8L298.0 164.5L298.5 164.2L299.0 164.5L299.5 164.8L300.0 164.6L300.5 164.0L301.0 164.6L301.5 165.3L302.0 164.9L302.5 164.1L303.0 164.3L303.5 163.8L304.0 164.8L304.5 164.6L305.0 163.9L305.5 164.5L306.0 164.5L306.5 164.5L307.0 164.1L307.5 164.0L308.0 164.0L308.5 165.1L309.0 164.0L309.5 164.2L310.0 164.1L310.5 163.7L311.0 164.0L311.5 163.7L312.0 163.8L312.5 163.9L313.0 163.8L313.5 164.8L314.0 163.7L314.5 163.8L315.0 164.0L315.5 164.3L316.0 164.0L316.5 164.3L317.0 164.6L317.5 163.7L318.0 164.5L318.5 164.5L319.0 163.4L319.5 163.4L320.0 163.5L320.5 163.9L321.1 164.2L321.6 163.6L322.1 162.7L322.6 163.1L323.1 162.8L323.7 163.6L324.2 163.0" fill="none" stroke="#111" stroke-width="1.9" stroke-linejoin="round" stroke-linecap="round"/>
<path d="M447.1 85.7L450.0 85.8L452.8 85.7L455.7 85.7L458.6 85.7L461.4 85.5L464.3 85.6L467.1 85.6L470.0 85.5L473.0 85.6L476.0 85.5L479.0 85.4L482.0 85.4L485.0 85.5L488.0 85.3L491.0 85.3L494.0 85.4L497.0 85.3L500.0 85.3L503.0 85.2L506.0 85.2L509.1 85.3L512.1 85.2L515.1 85.2L518.1 85.2L521.1 85.2L524.2 85.1L527.2 85.0L530.2 85.1L532.0 82.3L535.0 82.5L536.8 83.3L538.7 80.4L541.0 80.0L541.9 46.6L542.6 87.9L543.5 86.5L545.0 85.0L548.0 86.0L551.3 86.5L554.6 87.0L558.3 86.7L562.0 86.6L564.9 86.2L567.8 86.0L570.8 85.6L573.9 85.4L577.0 85.0L580.0 84.8L583.7 84.4L587.4 84.0L590.6 83.8L593.8 83.6L597.0 83.6L598.0 83.9L601.0 83.8L604.0 84.1L607.0 84.2L610.0 84.1L613.0 84.1L616.0 84.2L619.0 84.4L622.0 84.4L625.0 84.4L628.1 84.5L631.1 84.7L634.2 84.8L637.2 84.8L640.3 84.8L643.3 85.0L646.8 82.3L650.0 83.5L653.5 83.5L657.0 83.5L660.2 83.5L663.5 83.5L666.8 83.4L670.0 83.5L673.2 83.4L676.4 83.0L679.1 83.4L681.8 83.6L684.6 84.0L687.3 84.1L690.0 84.4" fill="none" stroke="#151515" stroke-width="1.2" stroke-linejoin="round"/>
<path d="M447.5 141.0L450.3 140.9L453.1 141.0L455.9 141.0L458.8 141.0L461.6 140.9L464.4 141.1L467.2 141.1L470.0 141.0L473.0 141.0L476.0 141.0L479.0 140.9L482.0 140.8L485.0 140.9L488.0 140.9L491.0 140.8L494.0 140.9L497.0 140.8L500.0 140.8L503.1 140.8L506.3 140.7L509.4 141.0L512.6 140.9L515.7 141.0L518.9 141.0L522.0 140.8L525.2 140.9L528.3 141.0L530.6 139.9L533.0 138.8L536.3 138.9L539.6 139.2L541.0 135.4L541.9 102.9L542.8 143.5L546.7 141.2L549.8 142.3L552.8 143.1L555.9 142.7L558.9 142.3L562.0 142.0L565.2 141.4L568.3 140.6L571.5 140.1L574.3 140.2L577.2 140.0L580.0 140.0L582.2 139.1L585.2 139.2L588.1 139.3L591.1 139.4L594.1 139.5L597.0 139.6L600.0 139.8L602.9 140.0L605.7 139.9L608.6 140.1L611.4 140.0L614.3 140.3L617.1 140.3L620.0 140.3L622.8 140.6L625.5 140.8L628.2 141.0L631.0 141.2L633.8 141.2L636.6 141.0L639.4 141.1L642.2 141.1L645.0 141.0L648.3 140.7L651.7 140.6L655.0 140.2L658.0 140.0L660.9 139.6L663.8 139.3L666.8 139.0L669.4 139.4L672.0 139.8L675.0 139.9L678.0 140.2L681.0 140.2L684.0 140.2L687.0 140.4L690.0 140.6" fill="none" stroke="#151515" stroke-width="1.2" stroke-linejoin="round"/>
<path d="M447.5 197.0L450.3 197.1L453.1 196.9L455.9 196.9L458.8 197.1L461.6 196.9L464.4 196.9L467.2 197.0L470.0 197.0L472.7 196.8L475.3 196.8L478.0 196.6L480.0 197.0L482.9 197.0L485.7 197.2L488.6 197.0L491.4 197.1L494.3 197.2L497.1 197.2L500.0 197.2L503.0 197.3L506.0 197.2L509.1 197.0L512.1 197.2L515.1 197.1L518.1 197.0L521.1 197.0L524.2 197.1L527.2 197.0L530.2 197.0L533.0 191.7L535.8 194.2L538.7 190.0L539.4 186.0L540.0 159.0L541.0 199.8L545.2 195.7L549.0 198.0L551.8 198.2L554.5 198.2L557.2 198.3L560.0 198.3L563.2 197.5L566.5 196.8L569.7 196.0L572.7 196.0L575.6 195.8L578.5 196.0L581.5 195.8L584.6 195.9L587.7 196.1L590.8 196.3L593.8 196.3L596.9 196.3L600.0 196.5L603.0 196.7L606.1 196.7L609.1 196.7L612.2 196.8L615.2 197.0L618.3 197.0L621.4 197.3L624.4 197.3L627.3 197.2L630.1 197.0L633.0 196.9L635.9 196.8L638.7 196.7L641.6 196.5L644.4 196.4L647.2 196.3L650.0 196.2L653.0 196.0L656.1 195.7L659.1 195.5L662.2 195.3L665.2 195.0L667.6 195.5L670.0 196.0L673.2 196.1L676.5 196.1L679.8 196.0L683.0 196.3L686.2 196.1L689.5 196.2" fill="none" stroke="#151515" stroke-width="1.2" stroke-linejoin="round"/>

<!-- scale bars -->
<path d="M310.8 195.2H334.5V172.1" fill="none" stroke="#222" stroke-width="1.2"/>
<text class="t13" x="340.7" y="187.6" style="font-size:13.6px">100pA</text>
<text class="t13" x="304.8" y="212.9" style="font-size:13.6px">50ms</text>
<path d="M675.2 207.6H698.9V180.2" fill="none" stroke="#4a4a4a" stroke-width="1.3"/>
<text class="t13" x="709.3" y="198.8">50mV</text>
<text class="t13" x="669.8" y="225.8">50ms</text>

<!-- Histogram A -->
<rect x="152.9" y="262.8" width="46.9" height="143.4" fill="#bdd7a4"/>
<path d="M81.50 406.20L81.50 389.30L87.32 389.30L87.32 394.20L92.04 394.20L92.04 384.00L96.76 384.00L96.76 390.90L101.48 390.90L101.48 390.20L106.20 390.20L106.20 393.80L110.92 393.80L110.92 389.30L115.64 389.30L115.64 390.10L120.36 390.10L120.36 390.10L125.08 390.10L125.08 395.00L129.80 395.00L129.80 389.30L134.52 389.30L134.52 388.60L139.24 388.60L139.24 388.60L143.96 388.60L143.96 396.00L148.68 396.00L148.68 390.10L153.40 390.10L153.40 390.80L158.12 390.80L158.12 388.60L162.84 388.60L162.84 303.10L167.56 303.10L167.56 314.10L172.28 314.10L172.28 272.70L177.00 272.70L177.00 333.90L181.72 333.90L181.72 374.30L186.44 374.30L186.44 384.70L191.16 384.70L191.16 397.30L195.88 397.30L195.88 392.20L200.60 392.20L200.60 393.80L205.32 393.80L205.32 394.40L210.04 394.40L210.04 390.40L214.76 390.40L214.76 398.90L219.48 398.90L219.48 391.10L224.20 391.10L224.20 388.10L228.92 388.10L228.92 390.40L233.64 390.40L233.64 393.10L238.36 393.10L238.36 393.30L243.08 393.30L243.08 395.10L247.80 395.10L247.80 395.10L252.52 395.10L252.52 385.50L257.24 385.50L257.24 380.40L261.96 380.40L261.96 389.30L266.68 389.30L266.68 390.00L271.40 390.00L271.40 385.00L276.12 385.00L276.12 393.00L280.84 393.00L280.84 390.40L285.56 390.40L285.56 387.40L290.28 387.40L290.28 389.20L295.00 389.20L295.00 389.20L299.72 389.20L299.72 387.40L304.44 387.40L304.44 387.40L309.16 387.40L309.16 388.50L313.88 388.50L313.88 391.40L318.60 391.40L318.60 406.20Z" fill="#0d0d0d" stroke="#0d0d0d" stroke-width="0.4"/>
<g stroke="#111" stroke-width="1.1" fill="none">
<path d="M81.5 272.7V406.7"/>
<path d="M77.1 292.8H81.5M77.1 330.7H81.5M77.1 368.4H81.5M77.1 406.2H81.5"/>
<path d="M105.35 406.2V412M152.5 406.2V412M199.65 406.2V412M246.8 406.2V412M293.95 406.2V412"/>
</g>
<g class="t15" text-anchor="end">
<text x="69.7" y="299.1">150</text>
<text x="69.7" y="336.8">100</text>
<text x="69.7" y="375">50</text>
<text x="69.7" y="410.1">0</text>
</g>
<g class="t15" text-anchor="middle">
<text x="104.8" y="431.7">-100</text>
<text x="151.8" y="431.7">0</text>
<text x="201.4" y="431.7">100</text>
<text x="247" y="431.7">200</text>
<text x="295.1" y="431.7">300</text>
</g>
<text class="t16" x="200.6" y="452.2" text-anchor="middle">Time (ms)</text>
<text class="t16" transform="translate(35.9,335.7) rotate(-90)" text-anchor="middle">Count</text>

<!-- Histogram B -->
<rect x="519.6" y="261.9" width="45.3" height="143.9" fill="#bdd7a4"/>
<rect x="475.20" y="397.65" width="4.69" height="8.15" fill="#0d0d0d" stroke="#0d0d0d" stroke-width="0.9"/>
<rect x="484.58" y="397.65" width="4.69" height="8.15" fill="#0d0d0d" stroke="#0d0d0d" stroke-width="0.9"/>
<rect x="517.41" y="397.65" width="4.69" height="8.15" fill="#0d0d0d" stroke="#0d0d0d" stroke-width="0.9"/>
<rect x="526.79" y="397.65" width="4.69" height="8.15" fill="#0d0d0d" stroke="#0d0d0d" stroke-width="0.9"/>
<rect x="531.48" y="273.75" width="4.69" height="132.05" fill="#0d0d0d" stroke="#0d0d0d" stroke-width="0.9"/>
<rect x="536.17" y="368.65" width="4.69" height="37.15" fill="#0d0d0d" stroke="#0d0d0d" stroke-width="0.9"/>
<rect x="540.86" y="282.95" width="4.69" height="122.85" fill="#0d0d0d" stroke="#0d0d0d" stroke-width="0.9"/>
<rect x="667.49" y="397.65" width="4.69" height="8.15" fill="#0d0d0d" stroke="#0d0d0d" stroke-width="0.9"/>
<g stroke="#111" stroke-width="1.1" fill="none">
<path d="M451.4 273V406.3"/>
<path d="M445.2 291.8H451.4M445.2 329.6H451.4M445.2 368H451.4"/>
<path d="M444.8 405.8H686.9"/>
<path d="M474.8 405.8V412.8M521.7 405.8V412.8M568.6 405.8V412.8M615.5 405.8V412.8M662.4 405.8V412.8"/>
</g>
<g class="t15" text-anchor="end">
<text x="438.5" y="298.05">12</text>
<text x="438.5" y="334.2">8</text>
<text x="438.5" y="372">4</text>
<text x="438.5" y="410.4">0</text>
</g>
<g class="t15" text-anchor="middle">
<text x="474.7" y="431.6">-100</text>
<text x="522.2" y="431.6">0</text>
<text x="568.8" y="431.6">100</text>
<text x="615.6" y="431.6">200</text>
<text x="662.5" y="431.6">300</text>
</g>
<text class="t16" x="570.4" y="452.3" text-anchor="middle">Time (ms)</text>
<text class="t16" transform="translate(410.2,335.5) rotate(-90)" text-anchor="middle">Count</text>

<g stroke="#4d4d4d" stroke-width="1.25" fill="none">
<path d="M81.2 515.9V713.8"/>
<path d="M74.5 710.3H316.9"/>
<path d="M74.5 677.98H81.2M74.5 645.67H81.2M74.5 613.35H81.2M74.5 581.04H81.2M74.5 548.72H81.2M74.5 516.40H81.2"/>
<path d="M120.61 710.3V713.6M159.82 710.3V713.6M199.02 710.3V713.6M238.23 710.3V713.6M277.44 710.3V713.6M316.65 710.3V713.6"/>
</g>
<g class="t15" text-anchor="end">
<text x="69.7" y="716.60">0</text>
<text x="69.7" y="683.80">20</text>
<text x="69.7" y="651.10">40</text>
<text x="69.7" y="618.20">60</text>
<text x="69.7" y="585.20">80</text>
<text x="69.7" y="555.10">100</text>
<text x="69.7" y="522.45">120</text>
</g><g class="t15" text-anchor="middle">
<text x="85.30" y="737.8">0</text>
<text x="120.80" y="737.8">20</text>
<text x="158.60" y="737.8">40</text>
<text x="198.70" y="737.8">60</text>
<text x="238.70" y="737.8">80</text>
<text x="279.50" y="737.8">100</text>
<text x="317.50" y="737.8">120</text>
</g>
<text class="ap" x="199.4" y="763.1" text-anchor="middle">Peak EPSC latency (ms)</text>
<text class="ap" transform="translate(35.9,612.55) rotate(-90)" text-anchor="middle">1st spike latency (ms)</text>
<path d="M81.4 710.3L316.9 516.4" stroke="#111" stroke-width="1.3" stroke-dasharray="2.4 2.2" fill="none"/>
<g stroke="#b8222c" stroke-width="1.25" fill="none">
<path d="M120.1 648.2H148.7M120.1 646.2V650.2M148.7 646.2V650.2M135.3 636.4V659.5M132.4 636.4H138.2M132.4 659.5H138.2"/>
</g>
<rect x="130.90" y="644.40" width="9" height="7.3" fill="#b10d16"/>
<circle cx="120.4" cy="606.4" r="4.3" fill="#111"/>
<circle cx="140.0" cy="614.6" r="4.3" fill="#111"/>
<circle cx="140.0" cy="648.4" r="4.3" fill="#111"/>
<circle cx="140.0" cy="658.7" r="4.3" fill="#111"/>
<circle cx="159.7" cy="657.1" r="4.3" fill="#111"/>
<circle cx="179.2" cy="637.5" r="4.3" fill="#111"/>
<circle cx="199.2" cy="591.9" r="4.3" fill="#111"/>
<circle cx="238.5" cy="574.8" r="4.3" fill="#111"/>
<g stroke="#4d4d4d" stroke-width="1.25" fill="none">
<path d="M452.9 517.7V715"/>
<path d="M447.1 712.1H689.2"/>
<path d="M447.1 663.50H452.9M447.1 614.90H452.9M447.1 566.30H452.9M447.1 517.70H452.9"/>
<path d="M512.10 712.1V715M571.10 712.1V715M630.10 712.1V715M689.10 712.1V715"/>
</g>
<g class="t15" text-anchor="end">
<text x="441.1" y="718.20">0</text>
<text x="441.1" y="670.00">0.5</text>
<text x="441.1" y="621.50">1.0</text>
<text x="441.1" y="570.40">1.5</text>
<text x="441.1" y="524.40">2.0</text>
</g><g class="t15" text-anchor="middle">
<text x="454.70" y="737.8">0</text>
<text x="512.60" y="737.8">5</text>
<text x="571.90" y="737.8">10</text>
<text x="631.00" y="737.8">15</text>
<text x="690.30" y="737.8">20</text>
</g>
<text class="ap" x="574.1" y="763" text-anchor="middle">eEPSCs per stim</text>
<text class="ap" transform="translate(408.3,614.15) rotate(-90)" text-anchor="middle">Spikes per stimulus</text>
<path d="M452.9 614.7H688.7" stroke="#111" stroke-width="1.2" stroke-dasharray="2.4 2.2" fill="none"/>
<g stroke="#b8222c" stroke-width="1.25" fill="none">
<path d="M525.4 629H554.6M525.4 627V631M554.6 627V631M540.3 619.5V637M538 619.5H542.7M538 637H542.7"/>
</g>
<rect x="536.00" y="625.30" width="8.6" height="7.4" fill="#b10d16"/>
<circle cx="524.7" cy="592.0" r="4.3" fill="#111"/>
<circle cx="515.4" cy="624.3" r="4.3" fill="#111"/>
<circle cx="521.9" cy="624.3" r="4.3" fill="#111"/>
<circle cx="505.8" cy="633.9" r="4.3" fill="#111"/>
<circle cx="509.1" cy="640.6" r="4.3" fill="#111"/>
<circle cx="538.7" cy="634.1" r="4.3" fill="#111"/>
<circle cx="598.4" cy="672.8" r="4.3" fill="#111"/>
<circle cx="607.3" cy="608.4" r="4.3" fill="#111"/>
</svg>
</body></html>
